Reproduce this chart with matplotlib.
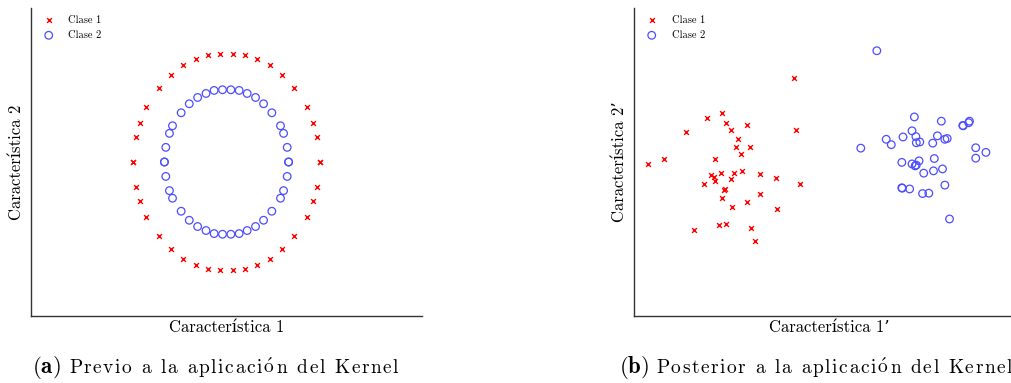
import matplotlib
matplotlib.use('Agg')
import matplotlib.pyplot as plt

plt.rcParams['font.family'] = ['cmr10', 'DejaVu Serif']
plt.rcParams['mathtext.fontset'] = 'cm'
plt.rcParams['axes.unicode_minus'] = False

# (a) datos originales: dos círculos concéntricos
clase1_x = [-0.068, 0.068, 0.20, 0.33, 0.466, 0.60, 0.73, 0.864, 0.93, 0.97, 1.0,
            0.97, 0.93, 0.864, 0.73, 0.60, 0.466, 0.33, 0.20, 0.068, -0.068,
            -0.20, -0.33, -0.466, -0.60, -0.73, -0.864, -0.93, -0.97, -1.0, -1.0,
            -0.97, -0.93, -0.864, -0.73, -0.60, -0.466, -0.33, -0.20, 1.0]
clase1_y = [1.0, 1.0, 0.985, 0.948, 0.89, 0.80, 0.684, 0.503, 0.36, 0.233, 0.0,
            -0.233, -0.36, -0.503, -0.684, -0.80, -0.89, -0.948, -0.985, -1.0, -1.0,
            -0.985, -0.948, -0.89, -0.80, -0.684, -0.503, -0.36, -0.233, 0.0, 0.0,
            0.233, 0.36, 0.503, 0.684, 0.80, 0.89, 0.948, 0.985, 0.0]

clase2_x = [-0.133, -0.043, 0.047, 0.136, 0.222, 0.312, 0.398, 0.487, 0.58, 0.613, 0.652, 0.667,
            0.652, 0.613, 0.58, 0.487, 0.398, 0.312, 0.222, 0.136, 0.047, -0.043, -0.133,
            -0.22, -0.31, -0.40, -0.487, -0.58, -0.613, -0.652, -0.667, -0.667,
            -0.652, -0.613, -0.58, -0.487, -0.40, -0.31, -0.22, 0.667]
clase2_y = [0.66, 0.666, 0.666, 0.66, 0.632, 0.595, 0.537, 0.454, 0.334, 0.264, 0.135, 0.0,
            -0.133, -0.264, -0.334, -0.454, -0.537, -0.595, -0.632, -0.66, -0.666, -0.666, -0.66,
            -0.632, -0.595, -0.537, -0.454, -0.334, -0.264, -0.133, 0.0, 0.0,
            0.135, 0.264, 0.334, 0.454, 0.537, 0.595, 0.632, 0.0]

# (b) datos tras aplicar el kernel
k_clase1_x = [4.10, 2.25, 1.86, 2.36, 2.89, 2.49, 4.14, 1.33, 2.66, 2.62, 2.96, 2.74, 0.76,
              2.08, 0.35, 2.75, 2.23, 2.57, 3.23, 1.97, 2.05, 3.63, 2.49, 2.08, 1.78, 4.24,
              2.34, 2.29, 3.21, 2.24, 2.88, 2.51, 3.67, 2.98, 2.17, 2.36, 1.53, 3.10]
k_clase1_y = [6.18, 5.28, 5.13, 5.02, 4.96, 4.83, 4.83, 4.77, 4.61, 4.40, 4.40, 4.20, 4.07,
              4.07, 3.95, 3.77, 3.71, 3.72, 3.70, 3.66, 3.62, 3.58, 3.55, 3.51, 3.43, 3.43,
              3.30, 3.27, 3.18, 3.06, 2.97, 2.82, 2.78, 2.29, 2.37, 2.39, 2.24, 1.95]

k_clase2_x = [6.21, 7.17, 7.86, 8.41, 8.58, 8.56, 8.42, 7.11, 7.76, 6.88, 6.45, 7.21, 7.95,
              8.01, 7.22, 7.31, 7.64, 6.58, 5.80, 8.74, 9.00, 8.74, 7.68, 6.85, 7.29, 7.11,
              7.19, 7.22, 7.89, 7.66, 7.41, 7.95, 6.85, 6.86, 7.05, 7.38, 7.54, 8.07]
k_clase2_y = [6.89, 5.17, 5.06, 4.95, 5.06, 5.02, 4.94, 4.81, 4.68, 4.65, 4.59, 4.66, 4.59,
              4.61, 4.50, 4.52, 4.49, 4.45, 4.36, 4.37, 4.25, 4.10, 4.09, 3.99, 4.03, 3.95,
              3.90, 3.92, 3.82, 3.77, 3.71, 3.40, 3.33, 3.32, 3.30, 3.18, 3.19, 2.52]

subtitulos = [('(a)', 'Previo a la aplicación del Kernel'),
              ('(b)', 'Posterior a la aplicación del Kernel')]

W, H = 1012, 383
fig = plt.figure(figsize=(W / 100, H / 100), dpi=100)
ax1 = fig.add_axes([31 / W, 67 / H, 391 / W, 308 / H])
ax2 = fig.add_axes([634 / W, 67 / H, 391 / W, 308 / H])


def estilo(ax, xlabel, ylabel):
    for s in ['top', 'right']:
        ax.spines[s].set_visible(False)
    for s in ['left', 'bottom']:
        ax.spines[s].set_color('#333333')
        ax.spines[s].set_linewidth(1.0)
    ax.set_xticks([])
    ax.set_yticks([])
    ax.set_xlabel(xlabel, fontsize=12, labelpad=3)
    ax.set_ylabel(ylabel, fontsize=12, labelpad=5)
    ax.legend(loc='upper left', frameon=False, fontsize=7.5, handletextpad=0.9,
              labelspacing=0.55, borderaxespad=0.3, scatterpoints=1)


ax1.scatter(clase1_x, clase1_y, marker='x', color='red', s=12, linewidths=1.0, label='Clase 1')
ax1.scatter(clase2_x, clase2_y, marker='o', facecolors='none', edgecolors='#4d4dff', s=30,
            linewidths=0.9, label='Clase 2')
ax1.set_xlim(-2.1, 2.1)
ax1.set_ylim(-1.42, 1.42)
estilo(ax1, 'Característica 1', 'Característica 2')

ax2.scatter(k_clase1_x, k_clase1_y, marker='x', color='red', s=12, linewidths=1.0, label='Clase 1')
ax2.scatter(k_clase2_x, k_clase2_y, marker='o', facecolors='none', edgecolors='#4d4dff', s=30,
            linewidths=0.9, label='Clase 2')
ax2.set_xlim(0, 10)
ax2.set_ylim(0, 8)
estilo(ax2, 'Característica 1’', 'Característica 2’')

# subtítulos con letras espaciadas (como en el original)
renderer = fig.canvas.get_renderer()


def ancho(s, size):
    t = fig.text(0, 0, s, fontsize=size)
    w = t.get_window_extent(renderer).width
    t.remove()
    return w


def texto_espaciado(x0, y0, s, size, track):
    x = x0
    esp = ancho('a a', size) - ancho('aa', size)
    for ch in s:
        if ch == ' ':
            x += esp + track
            continue
        glyph = r'$\mathrm{\acute{o}}$' if ch == 'ó' else ch
        fig.text(x / W, y0, glyph, fontsize=size, ha='left', va='baseline')
        x += ancho(glyph, size) + track


base_y = (H - 373) / H
for (letra, texto), x0 in zip(subtitulos, [32, 619]):
    fig.text(x0 / W, base_y, r'$\mathbf{' + letra + '}$', fontsize=16.5, ha='left', va='baseline')
    texto_espaciado(x0 + 37, base_y, texto, 14, 1.6)

fig.savefig('out.png', dpi=100)
